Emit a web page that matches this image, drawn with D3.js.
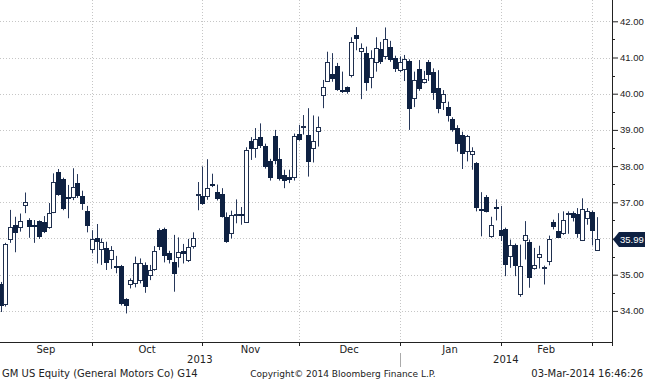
<!DOCTYPE html>
<html>
<head>
<meta charset="utf-8">
<script src="https://cdn.jsdelivr.net/npm/d3@7"></script>
<style>
  body { margin: 0; background: #fff; }
  svg { display: block; font-family: "DejaVu Sans", sans-serif; }
</style>
</head>
<body>
<div id="chart"></div>
<script>
// trading days shown: Sep 3 2013 .. Mar 3 2014 (weekdays minus NYSE holidays)
const firstDay = '2013-09-03';
const lastDay = '2014-03-03';
const holidays = ['2013-11-28', '2013-12-25', '2014-01-01', '2014-01-20', '2014-02-17'];

// daily OHLC
const open = [
  34.75, 34.18, 36.00, 36.37, 36.31, 36.95, 36.51, 36.37, 36.48, 36.46,
  36.30, 36.74, 37.85, 37.64, 37.14, 37.16, 37.52, 37.17, 36.77, 35.70,
  36.02, 35.71, 35.73, 35.42, 35.24, 35.24, 34.33, 34.73, 34.78, 34.83,
  35.27, 34.99, 35.16, 36.23, 36.25, 35.59, 35.36, 35.47, 35.66, 35.42,
  35.79, 37.21, 37.18, 37.16, 37.50, 37.28, 37.24, 36.60, 36.14, 36.67,
  36.68, 36.47, 38.69, 38.49, 38.80, 38.56, 38.13, 38.83, 38.20, 37.76,
  37.71, 37.71, 38.89, 39.08, 38.86, 38.49, 38.97, 39.96, 40.36, 40.54,
  40.77, 40.10, 40.18, 40.54, 41.63, 41.16, 41.12, 40.45, 40.88, 41.23,
  41.02, 41.30, 41.00, 40.67, 40.67, 40.90, 39.88, 40.68, 40.32, 40.87,
  40.60, 40.15, 39.78, 39.62, 39.30, 39.06, 38.86, 38.40, 38.34, 38.08,
  36.82, 37.16, 36.05, 36.88, 36.23, 36.27, 35.50, 35.83, 34.46, 35.97,
  35.91, 35.20, 35.51, 35.20, 35.38, 36.45, 36.22, 36.15, 36.69, 36.70,
  36.67, 35.95, 36.56, 36.73, 35.68
];
const high = [
  34.80, 35.88, 36.79, 36.60, 36.69, 37.27, 36.56, 36.51, 36.50, 36.62,
  36.98, 37.80, 37.92, 37.68, 37.48, 37.94, 37.78, 37.32, 36.90, 36.23,
  36.40, 36.00, 35.91, 35.79, 35.52, 35.27, 34.35, 34.90, 35.50, 35.45,
  35.34, 35.27, 35.79, 36.28, 36.30, 35.66, 36.10, 36.03, 35.85, 35.99,
  36.17, 37.56, 37.99, 38.19, 37.79, 37.49, 37.39, 36.72, 36.77, 37.08,
  36.87, 38.52, 38.80, 39.05, 39.18, 38.62, 38.20, 39.00, 38.50, 37.90,
  37.90, 38.90, 39.14, 39.41, 39.60, 39.40, 39.37, 40.38, 41.16, 41.12,
  40.85, 40.61, 40.20, 41.56, 41.84, 41.39, 41.30, 41.20, 41.56, 41.43,
  41.83, 41.46, 41.05, 41.03, 41.07, 40.95, 40.61, 40.93, 40.63, 40.93,
  40.70, 40.65, 40.10, 39.78, 39.35, 39.13, 38.95, 38.86, 38.52, 38.11,
  37.28, 37.20, 36.60, 37.08, 36.90, 36.30, 35.97, 35.86, 35.83, 36.48,
  35.97, 35.74, 35.80, 35.25, 36.08, 36.52, 36.70, 36.75, 36.75, 36.75,
  36.84, 37.11, 36.84, 36.77, 36.59
];
const low = [
  33.97, 34.12, 35.88, 35.62, 36.19, 36.70, 36.02, 35.88, 35.99, 36.15,
  36.27, 36.70, 37.18, 36.78, 36.56, 37.06, 37.12, 36.79, 36.17, 35.59,
  35.31, 35.27, 35.13, 35.16, 35.04, 34.15, 33.93, 34.62, 34.65, 34.76,
  34.50, 34.85, 35.11, 35.68, 35.34, 35.31, 34.53, 35.20, 35.31, 35.35,
  35.72, 36.78, 36.93, 37.07, 37.42, 37.05, 36.58, 35.88, 36.00, 36.42,
  36.38, 36.44, 38.17, 38.23, 38.50, 37.93, 37.60, 38.05, 37.60, 37.39,
  37.53, 37.60, 38.70, 38.87, 37.71, 38.10, 38.54, 39.60, 40.33, 40.33,
  40.08, 40.02, 40.00, 40.45, 41.20, 39.85, 40.08, 40.15, 40.61, 40.82,
  40.95, 40.88, 40.60, 40.60, 40.35, 39.00, 39.63, 40.08, 40.28, 40.35,
  39.83, 39.46, 39.55, 39.23, 38.95, 38.40, 37.92, 38.13, 37.90, 36.75,
  36.06, 36.72, 36.02, 36.50, 35.93, 34.96, 35.19, 34.96, 34.39, 35.42,
  34.64, 35.14, 35.17, 34.73, 35.26, 36.25, 36.02, 36.10, 36.13, 36.47,
  36.02, 35.93, 36.38, 35.81, 35.66
];
const close = [
  34.15, 35.84, 36.32, 36.14, 36.48, 37.02, 36.33, 36.35, 36.04, 36.19,
  36.70, 37.57, 37.22, 36.81, 37.13, 37.43, 37.17, 36.94, 36.35, 35.98,
  35.91, 35.91, 35.31, 35.68, 35.18, 34.19, 34.15, 34.84, 35.33, 35.31,
  34.67, 35.13, 35.65, 35.77, 35.50, 35.41, 35.04, 35.62, 35.59, 35.77,
  36.02, 37.23, 36.95, 37.39, 37.47, 37.10, 36.60, 35.91, 36.65, 36.68,
  36.67, 38.45, 38.47, 38.74, 38.54, 37.99, 37.65, 38.13, 37.65, 37.60,
  37.64, 38.83, 38.72, 39.10, 38.12, 38.68, 39.09, 40.18, 40.88, 40.40,
  40.12, 40.04, 40.04, 41.44, 41.53, 41.25, 40.29, 40.98, 41.27, 40.87,
  41.50, 40.93, 40.70, 40.88, 40.95, 39.57, 40.38, 40.14, 40.40, 40.52,
  40.03, 39.57, 39.99, 39.37, 39.00, 38.61, 38.34, 38.82, 38.43, 36.84,
  36.78, 36.75, 36.36, 36.87, 36.06, 35.28, 35.81, 35.26, 35.24, 36.11,
  34.92, 35.28, 35.58, 35.21, 35.99, 36.31, 36.04, 36.50, 36.70, 36.56,
  36.11, 36.81, 36.75, 36.20, 35.99
];

const priceTicks = [34, 35, 36, 37, 38, 39, 40, 41, 42];
const lastPrice = 35.99;
const footerLeft = 'GM US Equity (General Motors Co) G14';
const footerMid = 'Copyright\u00A9 2014 Bloomberg Finance L.P.';
const footerRight = '03-Mar-2014 16:46:26';

const width = 645, height = 380;
const plotW = 612, plotH = 342;
const navy = '#0e2142';
const axisFont = '"Liberation Sans", Arial, sans-serif';

const svg = d3.select('#chart').append('svg')
  .attr('width', width).attr('height', height);

// categories
const parse = d3.utcParse('%Y-%m-%d');
const fmt = d3.utcFormat('%Y-%m-%d');
const days = d3.utcDays(parse(firstDay), d3.utcDay.offset(parse(lastDay), 1))
  .filter(d => d.getUTCDay() % 6 !== 0 && !holidays.includes(fmt(d)));
const keys = days.map(fmt);

const x = d3.scalePoint().domain(keys).range([0.5, 596.7]);
const y = d3.scaleLinear().domain([34, 42]).range([310.9, 21.3]);
const px = i => Math.round(x(keys[i]));

// month boundaries = last trading day of each month
const monthEnds = d3.range(days.length - 1)
  .filter(i => days[i].getUTCMonth() !== days[i + 1].getUTCMonth());
const yearEnds = monthEnds.filter(i => days[i].getUTCFullYear() !== days[i + 1].getUTCFullYear());

// grid
const grid = svg.append('g').attr('stroke', '#c6c6c6').attr('stroke-dasharray', '1,2');
grid.selectAll('line.h').data(priceTicks).join('line')
  .attr('x1', 0).attr('x2', plotW)
  .attr('y1', d => Math.round(y(d)) + 0.5).attr('y2', d => Math.round(y(d)) + 0.5);
grid.selectAll('line.v').data(monthEnds).join('line')
  .attr('x1', i => px(i) + 0.5).attr('x2', i => px(i) + 0.5)
  .attr('y1', 0).attr('y2', plotH);

// candles
const idx = d3.range(days.length);
const candles = svg.append('g');
candles.selectAll('line').data(idx).join('line')
  .attr('x1', i => px(i) + 0.5).attr('x2', i => px(i) + 0.5)
  .attr('y1', i => y(high[i])).attr('y2', i => y(low[i]))
  .attr('stroke', '#26375a').attr('stroke-width', 1);

candles.selectAll('rect.down').data(idx.filter(i => close[i] < open[i])).join('rect')
  .attr('class', 'down')
  .attr('x', i => px(i) - 2).attr('width', 5)
  .attr('y', i => Math.round(y(open[i])))
  .attr('height', i => Math.max(2, Math.round(y(close[i]) - y(open[i]))))
  .attr('fill', navy);

candles.selectAll('rect.up').data(idx.filter(i => close[i] >= open[i])).join('rect')
  .attr('class', 'up')
  .attr('x', i => px(i) - 1.5).attr('width', 4)
  .attr('y', i => Math.round(y(close[i])) + 0.5)
  .attr('height', i => Math.max(1, Math.round(y(open[i]) - y(close[i]))))
  .attr('fill', '#fff').attr('stroke', '#1f2f4e').attr('stroke-width', 1);

// right price axis
const axisY = svg.append('g').attr('transform', `translate(${plotW},0)`)
  .call(d3.axisRight(y).tickValues(priceTicks).tickSize(6).tickPadding(2)
    .tickFormat(d3.format('.2f')));
axisY.select('.domain').remove();
axisY.selectAll('.tick line').attr('stroke', '#222');
axisY.selectAll('.tick text').attr('fill', '#222')
  .style('font-family', axisFont).style('font-size', '9.5px');

const halfTicks = priceTicks.slice(0, -1).map(d => d + 0.5);
svg.append('g').selectAll('line').data(halfTicks).join('line')
  .attr('x1', plotW).attr('x2', plotW + 3)
  .attr('y1', d => Math.round(y(d)) + 0.5).attr('y2', d => Math.round(y(d)) + 0.5)
  .attr('stroke', '#222');

// axes frame
svg.append('line').attr('x1', plotW + 0.5).attr('x2', plotW + 0.5)
  .attr('y1', 0).attr('y2', plotH + 4).attr('stroke', '#222');
svg.append('line').attr('x1', 0).attr('x2', plotW + 1)
  .attr('y1', plotH + 0.5).attr('y2', plotH + 0.5).attr('stroke', '#222');

// month ticks + labels
svg.append('g').selectAll('line').data(monthEnds).join('line')
  .attr('x1', i => px(i) + 0.5).attr('x2', i => px(i) + 0.5)
  .attr('y1', plotH).attr('y2', plotH + 4).attr('stroke', '#222');

const monthFmt = d3.utcFormat('%b');
const monthSeg = monthEnds.map((e, k) => ({
  label: monthFmt(days[e]),
  from: k === 0 ? 0 : x(keys[monthEnds[k - 1]]),
  to: x(keys[e])
}));
const txt = svg.append('g').attr('fill', '#222').style('font-size', '10px');
txt.selectAll('text.m').data(monthSeg).join('text')
  .attr('x', d => (d.from + d.to) / 2).attr('y', 353)
  .attr('text-anchor', 'middle').text(d => d.label);

const yearSeg = [
  { label: d3.utcFormat('%Y')(days[0]), from: 0, to: x(keys[yearEnds[0]]) },
  { label: d3.utcFormat('%Y')(days[days.length - 1]), from: x(keys[yearEnds[0]]), to: plotW }
];
txt.selectAll('text.y').data(yearSeg).join('text')
  .attr('x', d => (d.from + d.to) / 2).attr('y', 363)
  .attr('text-anchor', 'middle').text(d => d.label);
svg.append('g').selectAll('line').data(yearEnds).join('line')
  .attr('x1', i => px(i) + 0.5).attr('x2', i => px(i) + 0.5)
  .attr('y1', 353).attr('y2', 367).attr('stroke', '#aaa');

// footer
txt.append('text').attr('x', 2).attr('y', 377).text(footerLeft);
txt.append('text').attr('x', 343).attr('y', 377).attr('text-anchor', 'middle')
  .style('font-size', '9px').text(footerMid);
txt.append('text').attr('x', 643).attr('y', 377).attr('text-anchor', 'end').text(footerRight);

// last price tag
const ty = Math.round(y(lastPrice)) + 0.5;
svg.append('path')
  .attr('d', `M${plotW + 1},${ty} L${plotW + 7},${ty - 7.5} L${width},${ty - 7.5} L${width},${ty + 7.5} L${plotW + 7},${ty + 7.5} Z`)
  .attr('fill', navy);
svg.append('text').attr('x', plotW + 8).attr('y', ty + 3.5)
  .attr('fill', '#fff').style('font-family', axisFont).style('font-size', '9.5px')
  .text(d3.format('.2f')(lastPrice));
</script>
</body>
</html>
